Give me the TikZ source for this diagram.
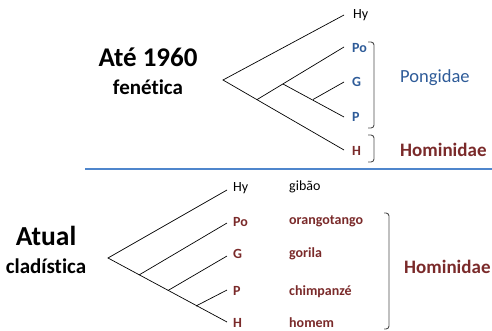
\documentclass[tikz,border=0pt]{standalone}
\usepackage{fontspec}
\setmainfont[Ligatures=NoCommon]{Carlito}
\definecolor{pblue}{HTML}{2E5B98}
\definecolor{hred}{HTML}{7A2A2A}
\definecolor{sepblue}{HTML}{4F86CC}
\begin{document}
\begin{tikzpicture}[x=1pt,y=-1pt,
  br/.style={line width=0.7pt, black},
  lab/.style={anchor=west, inner sep=0pt, font=\fontsize{14}{16}\selectfont},
  labb/.style={lab, font=\fontsize{14}{16}\selectfont\bfseries},
  brk/.style={line width=0.9pt, black!70, rounded corners=3pt}]
\useasboundingbox (0,0) rectangle (492,330);
% ---------- top: fenetica ----------
\node[font=\fontsize{27}{30}\selectfont\bfseries] (t1) at (148,57) {Até 1960};
\node[font=\fontsize{21}{24}\selectfont\bfseries] (t2) at (148,87) {fenética};
\coordinate (r0) at (223,80);
\coordinate (n1) at (257,99.6);
\coordinate (n2) at (283,84);
\coordinate (n3) at (313,99.5);
\coordinate (eHy) at (344,15);
\coordinate (ePo) at (344,47);
\coordinate (eG) at (344,82);
\coordinate (eP) at (344,117);
\coordinate (eH) at (344,150);
\draw[br] (eHy) -- (r0) -- (eH);
\draw[br] (n1) -- (ePo);
\draw[br] (n2) -- (eP);
\draw[br] (n3) -- (eG);
\node[lab] (Hy1) at (353,15) {Hy};
\node[labb, text=pblue] (Po1) at (352,48) {Po};
\node[labb, text=pblue] (G1) at (352,82) {G};
\node[labb, text=pblue] (P1) at (352,117) {P};
\node[labb, text=hred] (H1) at (352,151) {H};
\draw[brk] (368,42) -- (374,42) -- (374,128) -- (368,128);
\draw[brk] (368,135) -- (374,135) -- (374,162) -- (368,162);
\node[anchor=west, inner sep=0pt, text=pblue, font=\fontsize{18.5}{21}\selectfont] (pong) at (400,78) {Pongidae};
\node[anchor=west, inner sep=0pt, text=hred, font=\fontsize{19}{21}\selectfont\bfseries] (hom1) at (400,150) {Hominidae};
% separator
\draw[sepblue, line width=1.2pt] (85,169) -- (492,169);
% ---------- bottom: cladistica ----------
\node[font=\fontsize{27.5}{30}\selectfont\bfseries] (a1) at (46,236) {Atual};
\node[font=\fontsize{21}{24}\selectfont\bfseries] (a2) at (46,266) {cladística};
\coordinate (R0) at (108,258);
\coordinate (m1) at (139,275);
\coordinate (m2) at (168,290.5);
\coordinate (m3) at (196,306);
\coordinate (fHy) at (227,190);
\coordinate (fPo) at (227,223);
\coordinate (fG) at (227,256);
\coordinate (fP) at (227,290);
\coordinate (fH) at (227,322);
\draw[br] (fHy) -- (R0) -- (fH);
\draw[br] (m1) -- (fPo);
\draw[br] (m2) -- (fG);
\draw[br] (m3) -- (fP);
\node[lab] (Hy2) at (233,188) {Hy};
\node[labb, text=hred] (Po2) at (233,222) {Po};
\node[labb, text=hred] (G2) at (233,254) {G};
\node[labb, text=hred] (P2) at (233,291) {P};
\node[labb, text=hred] (H2) at (233,323) {H};
\node[lab] (n-gib) at (289,187) {gibão};
\node[labb, text=hred] (n-or) at (289,221) {orangotango};
\node[labb, text=hred] (n-go) at (289,254) {gorila};
\node[labb, text=hred] (n-ch) at (289,292) {chimpanzé};
\node[labb, text=hred] (n-ho) at (289,323) {homem};
\draw[brk] (384,213) -- (389,213) -- (389,329) -- (384,329);
\node[anchor=west, inner sep=0pt, text=hred, font=\fontsize{19}{21}\selectfont\bfseries] (hom2) at (404,267) {Hominidae};
\end{tikzpicture}
\end{document}
